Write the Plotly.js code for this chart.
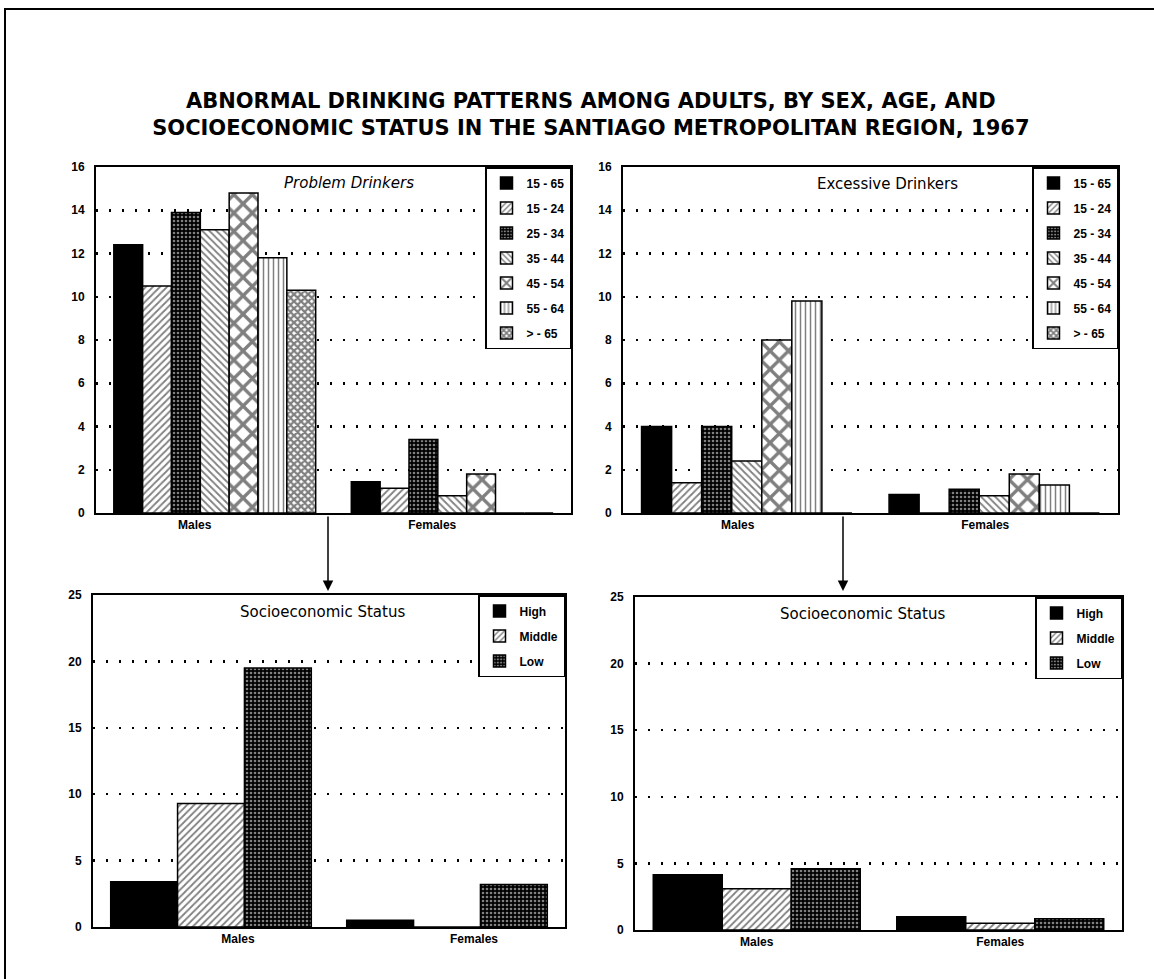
<!DOCTYPE html>
<html>
<head>
<meta charset="utf-8">
<script src="https://cdn.plot.ly/plotly-3.0.1.min.js"></script>
<style>html,body{margin:0;padding:0;background:#fff;}#chart{width:1154px;height:979px;}</style>
</head>
<body>
<div id="chart"></div>
<script>
// ---- data ----
const sexes = ['Males', 'Females'];
const ageGroups = ['15 - 65', '15 - 24', '25 - 34', '35 - 44', '45 - 54', '55 - 64', '> - 65'];
const problemMales = [12.4, 10.5, 13.9, 13.1, 14.8, 11.8, 10.3];
const problemFemales = [1.45, 1.15, 3.4, 0.8, 1.8, 0, 0];
const excessiveMales = [4.0, 1.4, 4.0, 2.4, 8.0, 9.8, 0];
const excessiveFemales = [0.85, 0, 1.1, 0.8, 1.8, 1.3, 0];
const sesLevels = ['High', 'Middle', 'Low'];
const problemSesMales = [3.4, 9.3, 19.5];
const problemSesFemales = [0.5, 0, 3.2];
const excessiveSesMales = [4.15, 3.1, 4.6];
const excessiveSesFemales = [1.0, 0.5, 0.85];
const mainTitle = 'ABNORMAL DRINKING PATTERNS AMONG ADULTS, BY SEX, AGE, AND<br>SOCIOECONOMIC STATUS IN THE SANTIAGO METROPOLITAN REGION, 1967';
const panelTitles = ['Problem Drinkers', 'Excessive Drinkers', 'Socioeconomic Status', 'Socioeconomic Status'];

// ---- styles ----
const agePatterns = [
  {shape: '', fgcolor: 'black', bgcolor: 'black'},
  {shape: '/', fgcolor: 'black', bgcolor: 'white', size: 5, solidity: 0.35},
  {shape: '.', fgcolor: 'white', bgcolor: 'black', size: 4, solidity: 0.35},
  {shape: '\\', fgcolor: 'black', bgcolor: 'white', size: 5, solidity: 0.35},
  {shape: 'x', fgcolor: 'black', bgcolor: 'white', size: 13, solidity: 0.45},
  {shape: '|', fgcolor: 'black', bgcolor: 'white', size: 5, solidity: 0.3},
  {shape: 'x', fgcolor: 'black', bgcolor: 'white', size: 5, solidity: 0.7}
];
const sesPatterns = [
  {shape: '', fgcolor: 'black', bgcolor: 'black'},
  {shape: '/', fgcolor: 'black', bgcolor: 'white', size: 5, solidity: 0.35},
  {shape: '.', fgcolor: 'white', bgcolor: 'black', size: 4, solidity: 0.35}
];

const W = 1154, H = 979;
const px = x => x / W;
const py = y => 1 - y / H;
const boxes = {
  tl: {x0: 96, x1: 571, y0: 167, y1: 513},
  tr: {x0: 623, x1: 1118, y0: 167, y1: 513},
  bl: {x0: 93, x1: 565, y0: 595, y1: 927},
  br: {x0: 635, x1: 1122, y0: 597, y1: 930}
};

const traces = [];
function addSeries(names, patterns, males, females, xa, ya, leg) {
  names.forEach((g, i) => {
    const p = patterns[i];
    traces.push({
      type: 'bar', name: g, x: sexes, y: [males[i], females[i]],
      xaxis: xa, yaxis: ya, legend: leg, legendgroup: leg + i,
      marker: {color: p.bgcolor, line: {color: 'black', width: 1.5},
        pattern: p.shape ? {shape: p.shape, fgcolor: p.fgcolor, bgcolor: p.bgcolor, size: p.size, solidity: p.solidity, fillmode: 'overlay'} : undefined},
      hoverinfo: 'x+y+name'
    });
  });
}
addSeries(ageGroups, agePatterns, problemMales, problemFemales, 'x', 'y', 'legend');
addSeries(ageGroups, agePatterns, excessiveMales, excessiveFemales, 'x2', 'y2', 'legend2');
addSeries(sesLevels, sesPatterns, problemSesMales, problemSesFemales, 'x3', 'y3', 'legend3');
addSeries(sesLevels, sesPatterns, excessiveSesMales, excessiveSesFemales, 'x4', 'y4', 'legend4');

const tickFont = {family: 'Liberation Sans, Arial, sans-serif', size: 12, color: 'black', weight: 'bold'};
const xFont = {family: 'Liberation Sans, Arial, sans-serif', size: 12, color: 'black', weight: 'bold'};

function xaxis(b, anchor, shift) {
  return {domain: [px(b.x0), px(b.x1)], anchor: anchor, showline: true, mirror: true, linecolor: 'black', linewidth: 2,
    showgrid: false, ticks: '', tickfont: xFont, ticklabelshift: shift, fixedrange: true};
}
function yaxis(b, anchor, range, dtick) {
  return {domain: [py(b.y1), py(b.y0)], anchor: anchor, range: range, dtick: dtick, tick0: 0,
    showline: true, mirror: true, linecolor: 'black', linewidth: 2, zeroline: false,
    showgrid: true, gridcolor: 'black', gridwidth: 2.5, griddash: '2px,11px',
    ticks: '', ticklabelstandoff: 7, tickfont: tickFont, fixedrange: true};
}
function legend(b) {
  return {x: px(b.x1), xanchor: 'right', y: py(b.y0), yanchor: 'top', xref: 'paper', yref: 'paper',
    bgcolor: 'white', bordercolor: 'black', borderwidth: 1.5,
    font: {family: 'Liberation Sans, Arial, sans-serif', size: 12, color: 'black', weight: 'bold'},
    traceorder: 'grouped', tracegroupgap: 6, itemwidth: 30, itemclick: false, itemdoubleclick: false};
}

const titleFont = {family: 'DejaVu Sans, sans-serif', size: 15, color: 'black'};
function panelTitle(text, x, y, italic) {
  return {text: text, x: px(x), y: py(y), xref: 'paper', yref: 'paper', xanchor: 'center', yanchor: 'middle',
    showarrow: false, font: Object.assign({}, titleFont, italic ? {style: 'italic'} : {})};
}
function arrow(x) {
  return {text: '', x: px(x), y: py(591), xref: 'paper', yref: 'paper', showarrow: true, ax: 0, ay: -76,
    arrowhead: 2, arrowsize: 1.4, arrowwidth: 1.5, arrowcolor: 'black'};
}
const annotations = [
  panelTitle(panelTitles[0], 349, 183, true),
  panelTitle(panelTitles[1], 887, 184, false),
  panelTitle(panelTitles[2], 322, 612, false),
  panelTitle(panelTitles[3], 862, 614, false),
  arrow(328), arrow(843)
];

const layout = {
  width: W, height: H, margin: {l: 0, r: 0, t: 0, b: 0},
  paper_bgcolor: 'white', plot_bgcolor: 'white',
  title: {text: mainTitle, x: 0.512, xanchor: 'center', y: py(108), yanchor: 'middle',
    font: {family: 'DejaVu Sans, sans-serif', size: 21, color: 'black', weight: 'bold'}},
  barmode: 'group', bargap: 0.15, bargroupgap: 0,
  showlegend: true,
  xaxis: xaxis(boxes.tl, 'y', -20), yaxis: yaxis(boxes.tl, 'x', [0, 16], 2),
  xaxis2: xaxis(boxes.tr, 'y2', -9), yaxis2: yaxis(boxes.tr, 'x2', [0, 16], 2),
  xaxis3: xaxis(boxes.bl, 'y3', 27), yaxis3: yaxis(boxes.bl, 'x3', [0, 25], 5),
  xaxis4: xaxis(boxes.br, 'y4', 0), yaxis4: yaxis(boxes.br, 'x4', [0, 25], 5),
  legend: legend(boxes.tl), legend2: legend(boxes.tr), legend3: legend(boxes.bl), legend4: legend(boxes.br),
  annotations: annotations,
  shapes: [{type: 'rect', xref: 'paper', yref: 'paper', x0: px(5), y0: py(9), x1: 1.02, y1: -0.02,
    line: {color: 'black', width: 2}, layer: 'below'}]
};

Plotly.newPlot('chart', traces, layout, {displayModeBar: false, staticPlot: true});
</script>
</body>
</html>
